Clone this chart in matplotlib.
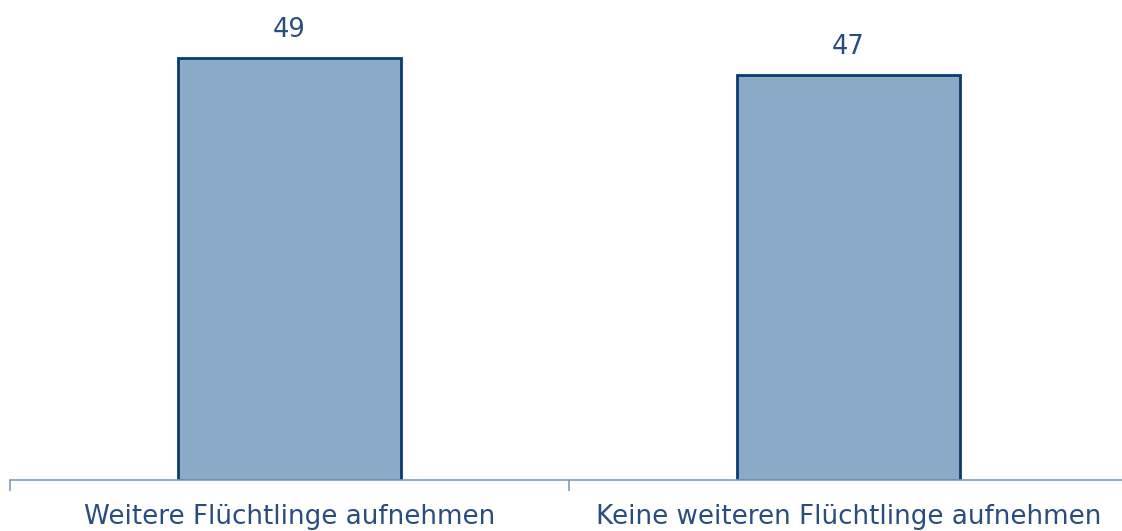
import matplotlib
matplotlib.use("Agg")
import matplotlib.pyplot as plt

categories = ["Weitere Flüchtlinge aufnehmen", "Keine weiteren Flüchtlinge aufnehmen"]
values = [49, 47]

text_color = "#2A4D7F"
bar_fill = "#8BAAC8"
bar_edge = "#0B3C6E"
axis_color = "#7F9DBA"

fig = plt.figure(figsize=(11.22, 5.31), dpi=100)
# axes spans x from 10px to 1128px, bottom at 480px from top
ax = fig.add_axes([10/1122, 51/531, 1118/1122, 480/531])
x = [0.5, 1.5]
bars = ax.bar(x, values, width=0.4, color=bar_fill, edgecolor=bar_edge, linewidth=2)
ax.set_xlim(0, 2)
ax.set_ylim(0, 480/8.62)

for xi, v in zip(x, values):
    ax.text(xi, v + 2.44, str(v), ha="center", va="baseline", fontsize=18.5, color=text_color)

for s in ["top", "right", "left"]:
    ax.spines[s].set_visible(False)
ax.spines["bottom"].set_color(axis_color)
ax.spines["bottom"].set_linewidth(1.2)
ax.set_yticks([])
ax.set_xticks([0, 1, 2])
ax.set_xticklabels([])
ax.tick_params(axis="x", length=8, width=1.2, color=axis_color)
ax.set_xticks(x, minor=True)
ax.set_xticklabels(categories, minor=True, fontsize=18.8, color=text_color)
ax.tick_params(axis="x", which="minor", length=0, pad=17)

fig.savefig("out.png", dpi=100)
